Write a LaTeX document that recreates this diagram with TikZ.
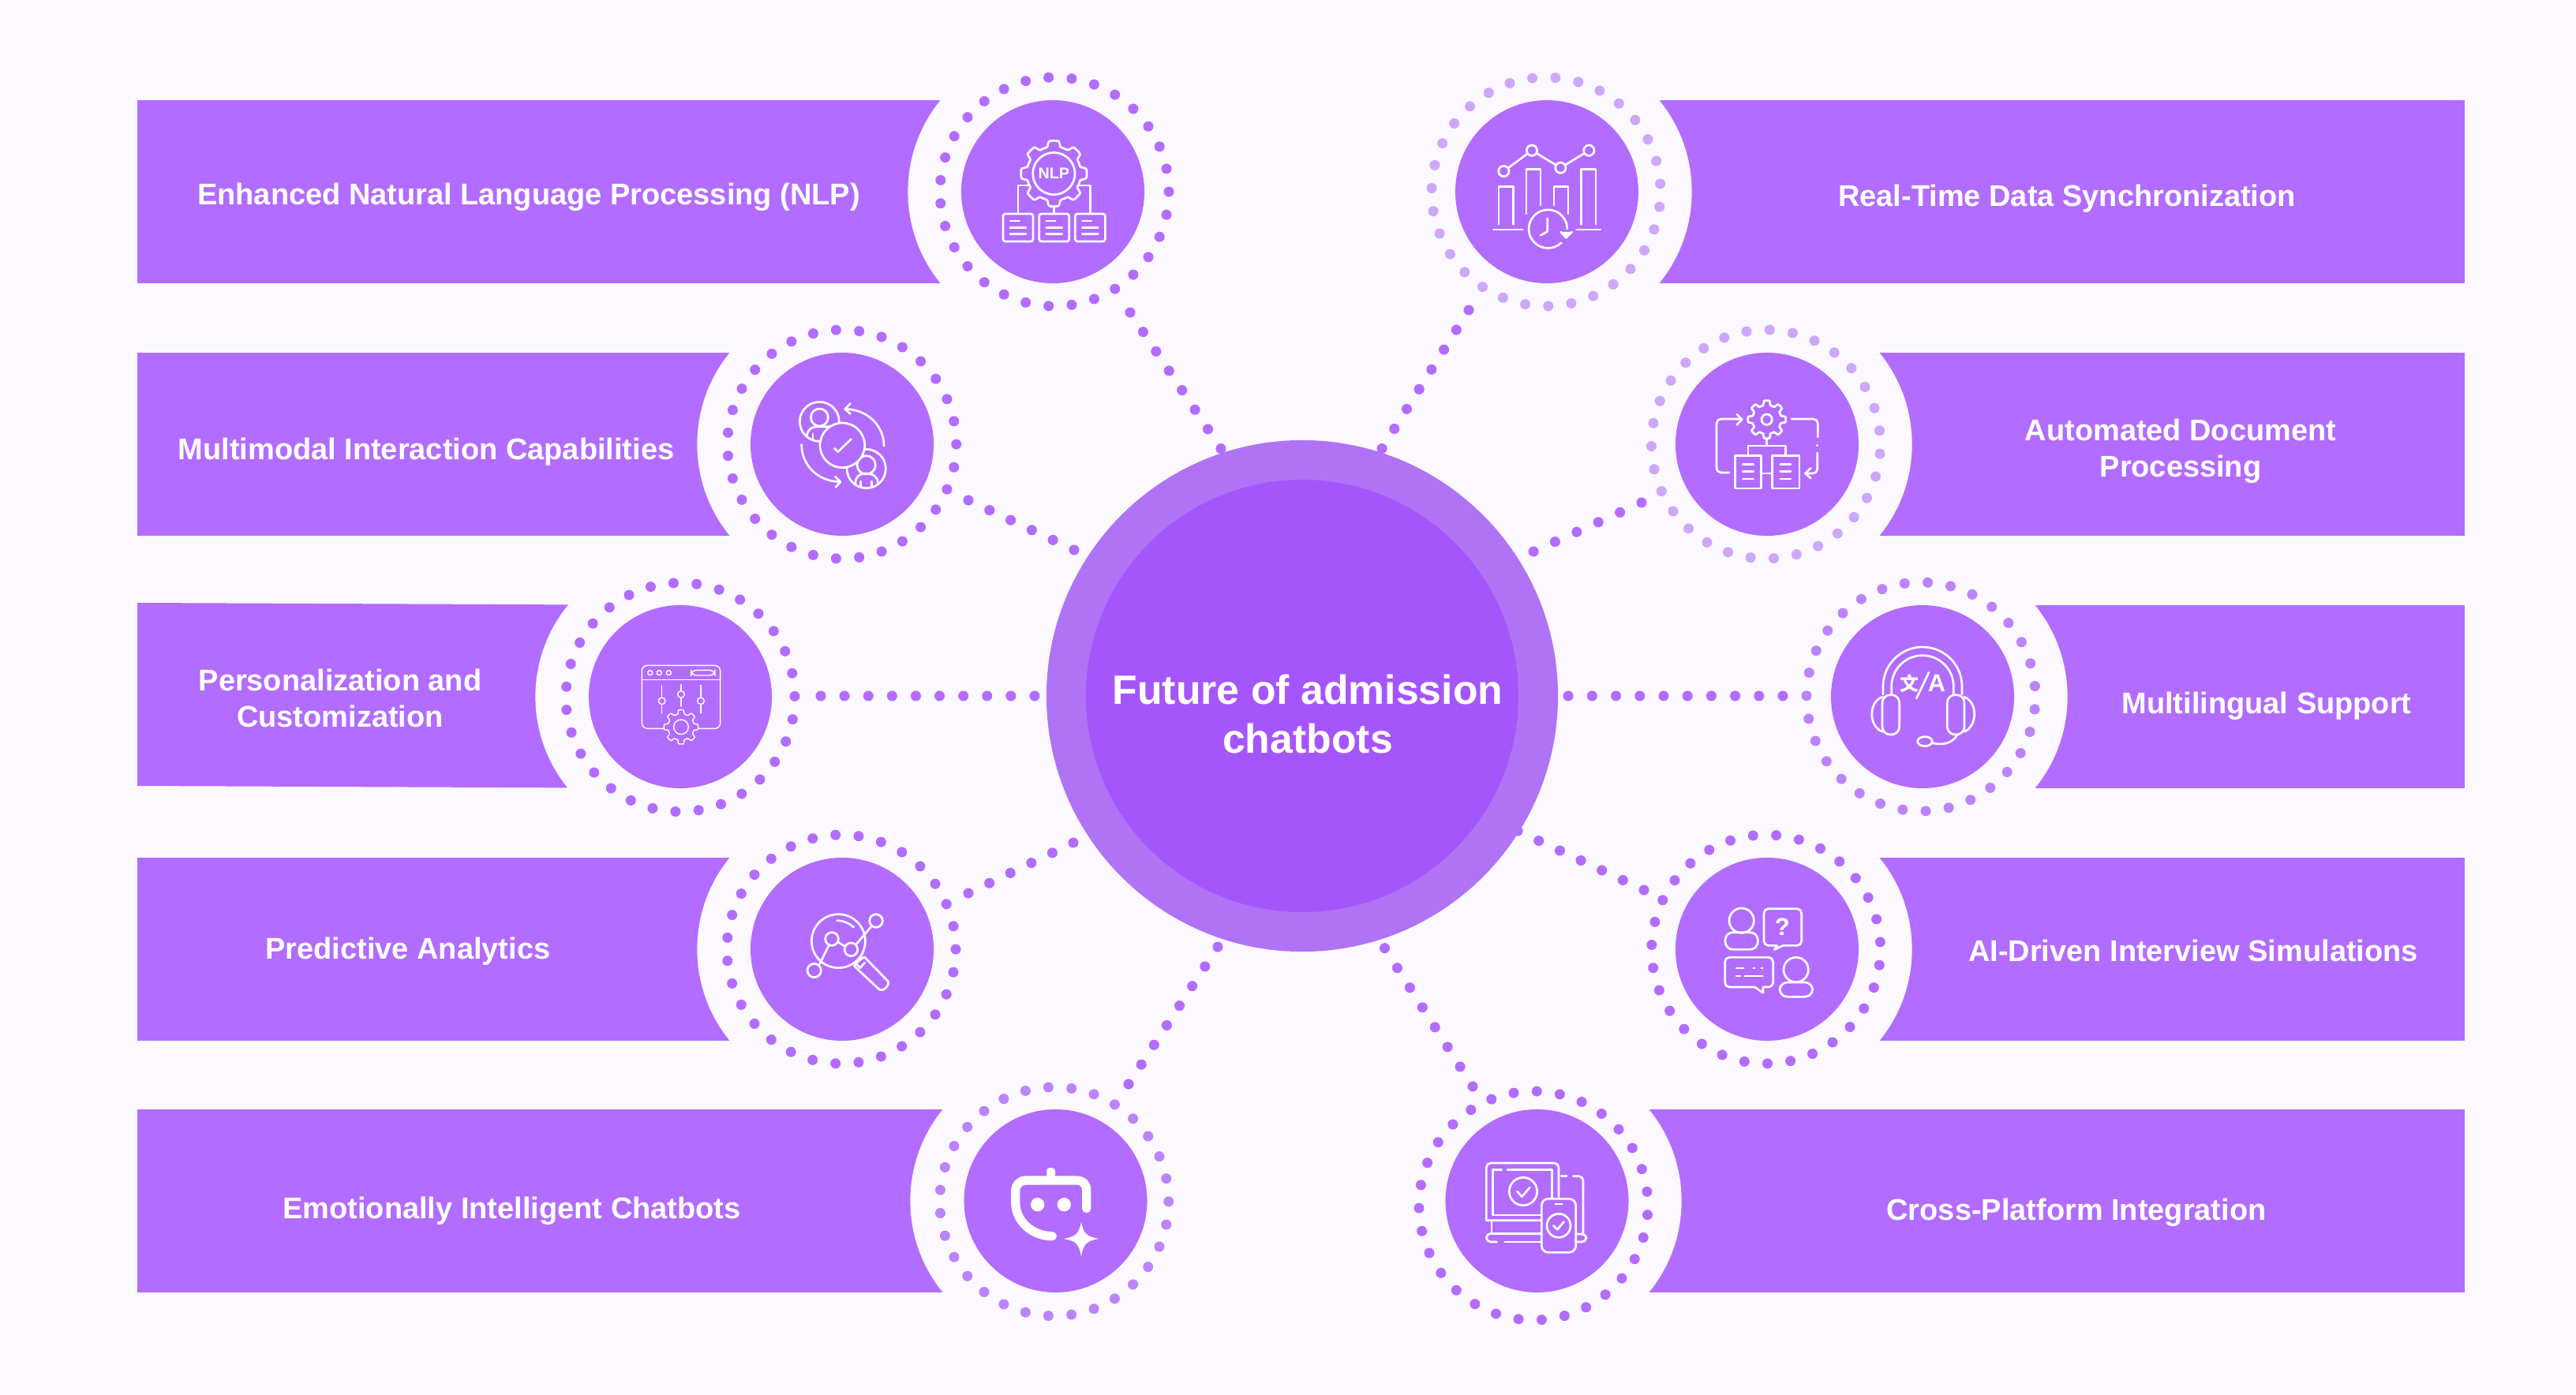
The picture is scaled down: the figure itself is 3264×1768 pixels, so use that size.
\documentclass[tikz,border=0pt]{standalone}
\usepackage{fontspec}
\setmainfont{Liberation Sans}
\newfontfamily\cjkfont{Noto Sans CJK SC}
\usetikzlibrary{calc}
\definecolor{bgc}{HTML}{FBF8FF}
\definecolor{bandc}{HTML}{B26CFF}
\definecolor{corec}{HTML}{A556FB}
\definecolor{haloc}{HTML}{B073F6}
\definecolor{dotl}{HTML}{CDA8FA}
\definecolor{dotm}{HTML}{BC84FA}
\tikzset{
  x=0.025cm,y=-0.025cm,
  band/.style={fill=bandc},
  gap/.style={circle,fill=bgc,minimum size=9.18cm,inner sep=0pt},
  hub/.style={circle,fill=bandc,minimum size=5.8cm,inner sep=0pt},
  bandtext/.style={text=white,align=center,inner sep=0pt,font=\fontsize{27}{32.7}\selectfont\bfseries},
  link/.style={draw=bandc,line width=9.3pt,line cap=round,dash pattern=on 0pt off #1pt},
  ico/.style={draw=white,line width=1.9pt,line cap=round,line join=round},
  icot/.style={draw=white,line width=1.0pt,line cap=round,line join=round},
  zoomed/.style={shift={#1},scale=1/3},
}
\newcommand{\ringdots}[4]{\foreach \k in {0,...,30}{\fill[#4,shift={(#1,#2)}] ({#3+\k*360/31}:145) circle (6.5);}}
\newcommand{\gearshape}[6][]{\draw[#1,shift={(#2,#3)}] plot[domain=0:360,samples=161] ({\x}:{#4+(#5-#4)*max(0,min(1,0.5+1.3*cos(#6*\x)))}) -- cycle;}
\begin{document}
\begin{tikzpicture}
\useasboundingbox (0,0) rectangle (3264,1768);
\fill[bgc] (0,0) rectangle (3264,1768);
% bands
\fill[band] (174,127) rectangle (1334,359);
\fill[band] (174,447) rectangle (1067,679);
\fill[band] (174,764) -- (862,767) -- (862,999) -- (174,996) -- cycle;
\fill[band] (174,1087) rectangle (1067,1319);
\fill[band] (174,1406) rectangle (1337,1638);
\fill[band] (1960,127) rectangle (3123,359);
\fill[band] (2239,447) rectangle (3123,679);
\fill[band] (2436,767) rectangle (3123,999);
\fill[band] (2239,1087) rectangle (3123,1319);
\fill[band] (1947,1406) rectangle (3123,1638);
% gaps round the hubs
\foreach \p/\q in {1334/243,1067/563,862/883,1067/1203,1337/1522,1960/243,2239/563,2436/883,2239/1203,1947/1522}{\node[gap] at (\p,\q) {};}
% hubs
\node[hub] (n1) at (1334,243) {};
\node[hub] (n2) at (1067,563) {};
\node[hub] (n3) at (862,883) {};
\node[hub] (n4) at (1067,1203) {};
\node[hub] (n5) at (1337.5,1522) {};
\node[hub] (n6) at (1960,243) {};
\node[hub] (n7) at (2239,563) {};
\node[hub] (n8) at (2436,883) {};
\node[hub] (n9) at (2239,1203) {};
\node[hub] (n10) at (1947.5,1522) {};
% rings
\ringdots{1336}{243}{0}{bandc}
\ringdots{1066.7}{563}{0}{bandc}
\ringdots{862}{883.7}{-0.5}{bandc}
\ringdots{1066}{1203}{0}{bandc}
\ringdots{1335.7}{1522.8}{0}{dotm}
\ringdots{1959}{243}{-4}{dotl}
\ringdots{2237.5}{563}{4.8}{dotl}
\ringdots{2434}{883}{6.3}{dotm}
\ringdots{2237.7}{1203}{8}{bandc}
\ringdots{1943}{1528}{4.6}{bandc}
% link ends
\coordinate (a1) at (1432,396); \coordinate (b1) at (1547,568.6);
\coordinate (a2) at (1227,634); \coordinate (b2) at (1361,697);
\coordinate (a3) at (1040,882); \coordinate (b3) at (1311,882);
\coordinate (a4) at (1227,1132); \coordinate (b4) at (1360,1068);
\coordinate (a5) at (1430,1374); \coordinate (b5) at (1543,1200);
\coordinate (a6) at (1861,393); \coordinate (b6) at (1751,568.6);
\coordinate (a7) at (2080,637); \coordinate (b7) at (1943,699);
\coordinate (a8) at (2259,882); \coordinate (b8) at (1987,882);
\coordinate (a9) at (2083,1128); \coordinate (b9) at (1923,1053);
\coordinate (a10) at (1866,1377); \coordinate (b10) at (1754.5,1201.6);
\draw[link=21.06] (a1) -- (b1);
\draw[link=21.05] (a2) -- (b2);
\draw[link=21.41] (a3) -- (b3);
\draw[link=20.99] (a4) -- (b4);
\draw[link=21.07] (a5) -- (b5);
\draw[link=21.04] (a6) -- (b6);
\draw[link=21.38] (a7) -- (b7);
\draw[link=21.48] (a8) -- (b8);
\draw[link=20.93] (a9) -- (b9);
\draw[link=21.11] (a10) -- (b10);
% centre
\node[circle,fill=haloc,minimum size=16.2cm,inner sep=0pt] (halo) at (1650,882) {};
\node[circle,fill=corec,minimum size=13.7cm,inner sep=0pt] (core) at (1650,882) {};
\node[text=white,align=center,inner sep=0pt,font=\fontsize{36.8}{44.5}\selectfont\bfseries] (title) at (1657,905) {Future of admission\\chatbots};
% band texts
\node[bandtext] (t1) at (670,250) {Enhanced Natural Language Processing (NLP)};
\node[bandtext] (t2) at (540,573) {Multimodal Interaction Capabilities};
\node[bandtext] (t3) at (431,885) {Personalization and\\Customization};
\node[bandtext] (t4) at (517,1206) {Predictive Analytics};
\node[bandtext] (t5) at (648.5,1535) {Emotionally Intelligent Chatbots};
\node[bandtext] (t6) at (2619,252) {Real-Time Data Synchronization};
\node[bandtext] (t7) at (2763,572) {Automated Document\\Processing};
\node[bandtext] (t8) at (2872,895) {Multilingual Support};
\node[bandtext] (t9) at (2779,1205) {AI-Driven Interview Simulations};
\node[bandtext] (t10) at (2631,1537) {Cross-Platform Integration};
% icon 1 NLP
\begin{scope}[zoomed={(1100,60)}]
\gearshape[ico]{706}{480}{103}{125}{8}
\draw[ico] (706,480) circle (80);
\node[text=white,inner sep=0pt,font=\fontsize{14}{14}\selectfont\bfseries] (nlp) at (706,480) {NLP};
\draw[ico] (570,630) -- (570,525) -- (612,525);
\draw[ico] (845,630) -- (845,525) -- (800,525);
\draw[ico] (706,605) -- (706,632);
\foreach \d in {0,137,274}{
  \draw[ico,rounded corners=2pt] (513+\d,633) rectangle (627+\d,738);
  \draw[ico] (540+\d,660) -- (575+\d,660) (540+\d,686) -- (600+\d,686) (540+\d,710) -- (600+\d,710);
}
\end{scope}
% icon 2
\begin{scope}[zoomed={(860,380)}]
\draw[ico] (535,463) circle (75);
\draw[ico] (535,447) circle (33);
\draw[ico] (488,522) .. controls (485,495) and (505,482) .. (530,482) -- (580,482);
\draw[ico] (510,510) -- (510,530);
\draw[ico] (713,642) circle (74);
\draw[ico] (713,628) circle (35);
\draw[ico] (672,700) .. controls (670,672) and (690,660) .. (710,660) .. controls (738,660) and (757,672) .. (757,697);
\draw[ico] (692,690) -- (692,712) (733,690) -- (733,712);
\draw[ico,fill=bandc] (622,553) circle (85);
\draw[ico] (592,565) -- (605,578) -- (655,530);
\draw[ico] (780,555) .. controls (780,480) and (720,418) .. (635,415);
\draw[ico] (652,395) -- (632,415) -- (652,433);
\draw[ico] (467,550) .. controls (467,630) and (530,690) .. (612,692);
\draw[ico] (595,672) -- (615,692) -- (597,712);
\end{scope}
% icon 3
\begin{scope}[zoomed={(680,720)}]
\draw[icot,rounded corners=5pt] (400,370) rectangle (698,610);
\draw[icot] (400,425) -- (698,425);
\foreach \p in {431,466,502}{\draw[icot] (\p,398) circle (9);}
\draw[icot,rounded corners=5pt] (587,388) rectangle (678,408);
\draw[icot] (476,445) -- (476,552) (549,443) -- (549,525) (624,445) -- (624,552);
\draw[icot,fill=bandc] (476,505) circle (13);
\draw[icot,fill=bandc] (549,480) circle (13);
\draw[icot,fill=bandc] (624,505) circle (13);
\gearshape[icot,fill=bandc]{549}{604}{50}{65}{8}
\draw[icot] (549,604) circle (28);
\end{scope}
% icon 4
\begin{scope}[zoomed={(1000,1040)}]
\draw[ico] (187,458) circle (102);
\draw[ico] (182,380) .. controls (205,380) and (228,390) .. (245,405);
\draw[ico] (116,545) -- (150,475) (185,462) -- (212,478) (255,470) -- (310,405);
\draw[ico] (95,570) circle (26);
\draw[ico] (162,450) circle (25);
\draw[ico] (235,490) circle (25);
\draw[ico] (330,381) circle (25);
\draw[ico] (262,535) -- (247,553) -- (340,640) .. controls (355,655) and (385,625) .. (375,610) -- (285,518) -- (262,535);
\draw[ico] (255,545) -- (270,560) -- (287,540);
\end{scope}
% icon 5 robot
\begin{scope}[zoomed={(1180,1360)}]
\draw[draw=white,line width=8pt,line cap=round,line join=round] (590,515) -- (590,445) .. controls (590,420) and (575,408) .. (550,408) -- (360,408) .. controls (335,408) and (320,425) .. (320,450) -- (320,490) .. controls (320,565) and (385,620) .. (460,620);
\fill[white,rounded corners=3pt] (438,360) rectangle (471,400);
\fill[white] (404,500) circle (26) (505,500) circle (26);
\fill[white] (570,565) .. controls (578,610) and (590,622) .. (637,630) .. controls (590,638) and (578,650) .. (570,697) .. controls (562,650) and (550,638) .. (503,630) .. controls (550,622) and (562,610) .. (570,565) -- cycle;
\end{scope}
% icon 6 chart
\begin{scope}[zoomed={(1800,80)}]
\draw[ico] (297,613) -- (297,470) -- (352,470) -- (352,613);
\draw[ico] (402,573) -- (402,403) -- (456,403) -- (456,540);
\draw[ico] (507,540) -- (507,470) -- (561,470) -- (561,573);
\draw[ico] (611,613) -- (611,403) -- (666,403) -- (666,613);
\draw[ico] (277,633) -- (388,633) (592,633) -- (684,633);
\draw[ico] (316,411) -- (423,332) -- (532,398) -- (640,332);
\foreach \p/\q in {316/411,423/332,532/398,640/332}{\draw[ico,fill=bandc] (\p,\q) circle (20);}
\draw[ico] (535,683) arc (46:360:73);
\draw[ico] (482,590) -- (482,640) -- (456,655);
\draw[ico,fill=white] (533,642) -- (553,664) -- (575,642);
\end{scope}
% icon 7
\begin{scope}[zoomed={(2080,400)}]
\gearshape[ico]{476}{395}{55}{72}{8}
\draw[ico] (476,395) circle (20);
\draw[ico] (476,467) -- (476,495);
\draw[ico] (405,530) -- (405,495) -- (548,495) -- (548,530);
\draw[ico] (355,533) rectangle (455,657);
\draw[ico] (497,533) rectangle (600,657);
\draw[ico] (455,600) -- (497,600);
\foreach \d in {0,142}{\draw[ico] (385+\d,565) -- (425+\d,565) (385+\d,593) -- (425+\d,593) (385+\d,621) -- (425+\d,621);}
\draw[ico,rounded corners=4pt] (333,597) -- (285,597) -- (285,393) -- (380,393);
\draw[ico] (362,375) -- (382,395) -- (362,415);
\draw[ico,rounded corners=4pt] (570,393) -- (670,393) -- (670,462);
\draw[ico] (668,493) -- (668,494);
\draw[ico,rounded corners=4pt] (668,522) -- (668,600) -- (622,600);
\draw[ico] (643,580) -- (622,600) -- (643,618);
\end{scope}
% icon 8 headset
\begin{scope}[zoomed={(2280,720)}]
\draw[ico] (318,480) -- (318,450) arc (180:360:150) -- (618,480);
\draw[ico] (350,480) -- (350,450) arc (180:360:118) -- (586,480);
\draw[ico,rounded corners=7pt] (315,482) rectangle (380,633);
\draw[ico,rounded corners=7pt] (562,482) rectangle (627,633);
\draw[ico] (315,490) .. controls (262,510) and (262,600) .. (315,622);
\draw[ico] (627,490) .. controls (678,510) and (678,600) .. (627,622);
\draw[ico] (600,635) .. controls (580,665) and (550,675) .. (505,665);
\draw[ico] (477,659) ellipse (28 and 18);
\node[text=white,inner sep=0pt,font=\cjkfont\fontsize{17}{17}\selectfont\bfseries] (wen) at (418,440) {文};
\draw[ico] (445,495) -- (492,397);
\node[text=white,inner sep=0pt,font=\fontsize{22}{22}\selectfont\bfseries] (aa) at (522,438) {A};
\end{scope}
% icon 9
\begin{scope}[zoomed={(2080,1040)}]
\draw[ico] (380,380) circle (47);
\draw[ico,rounded corners=7pt] (318,490) -- (318,425) -- (442,425) -- (442,490) -- cycle;
\draw[ico,rounded corners=4pt] (515,475) -- (465,475) -- (465,335) -- (608,335) -- (608,475) -- (538,475);
\draw[ico] (515,475) -- (505,490) -- (538,475);
\node[text=white,inner sep=0pt,font=\fontsize{22}{22}\selectfont\bfseries] (qm) at (535,405) {?};
\draw[ico,rounded corners=4pt] (430,633) -- (317,633) -- (317,520) -- (500,520) -- (500,633) -- (462,633);
\draw[ico] (430,633) -- (462,655) -- (462,633);
\draw[ico] (360,561) -- (388,561) (425,561) -- (429,561) (455,561) -- (459,561) (360,591) -- (375,591) (392,591) -- (460,591);
\draw[ico] (587,567) circle (47);
\draw[ico,rounded corners=7pt] (525,670) -- (525,615) -- (650,615) -- (650,670) -- cycle;
\end{scope}
% icon 10
\begin{scope}[zoomed={(1790,1370)}]
\draw[ico,rounded corners=4pt] (280,530) -- (280,312) -- (555,312) -- (555,440) (555,530) -- (280,530);
\draw[ico] (338,338) -- (305,338) -- (305,510) -- (490,510) (360,338) -- (530,338) -- (530,450);
\draw[ico] (420,420) circle (53);
\draw[ico] (397,420) -- (415,440) -- (445,405);
\draw[ico] (300,535) -- (300,580) -- (490,580);
\draw[ico,rounded corners=4pt] (320,612) -- (280,612) -- (280,580) -- (300,580);
\draw[ico] (350,612) -- (490,612);
\draw[ico] (565,362) -- (585,362);
\draw[ico,rounded corners=4pt] (610,362) -- (648,362) -- (648,582);
\draw[ico,rounded corners=4pt] (625,612) -- (660,612) -- (660,582) -- (625,582);
\draw[ico,rounded corners=6pt,fill=bandc] (490,448) rectangle (620,652);
\draw[ico] (542,468) -- (568,468);
\draw[ico] (555,550) circle (45);
\draw[ico] (535,550) -- (550,565) -- (575,535);
\end{scope}
\end{tikzpicture}
\end{document}
